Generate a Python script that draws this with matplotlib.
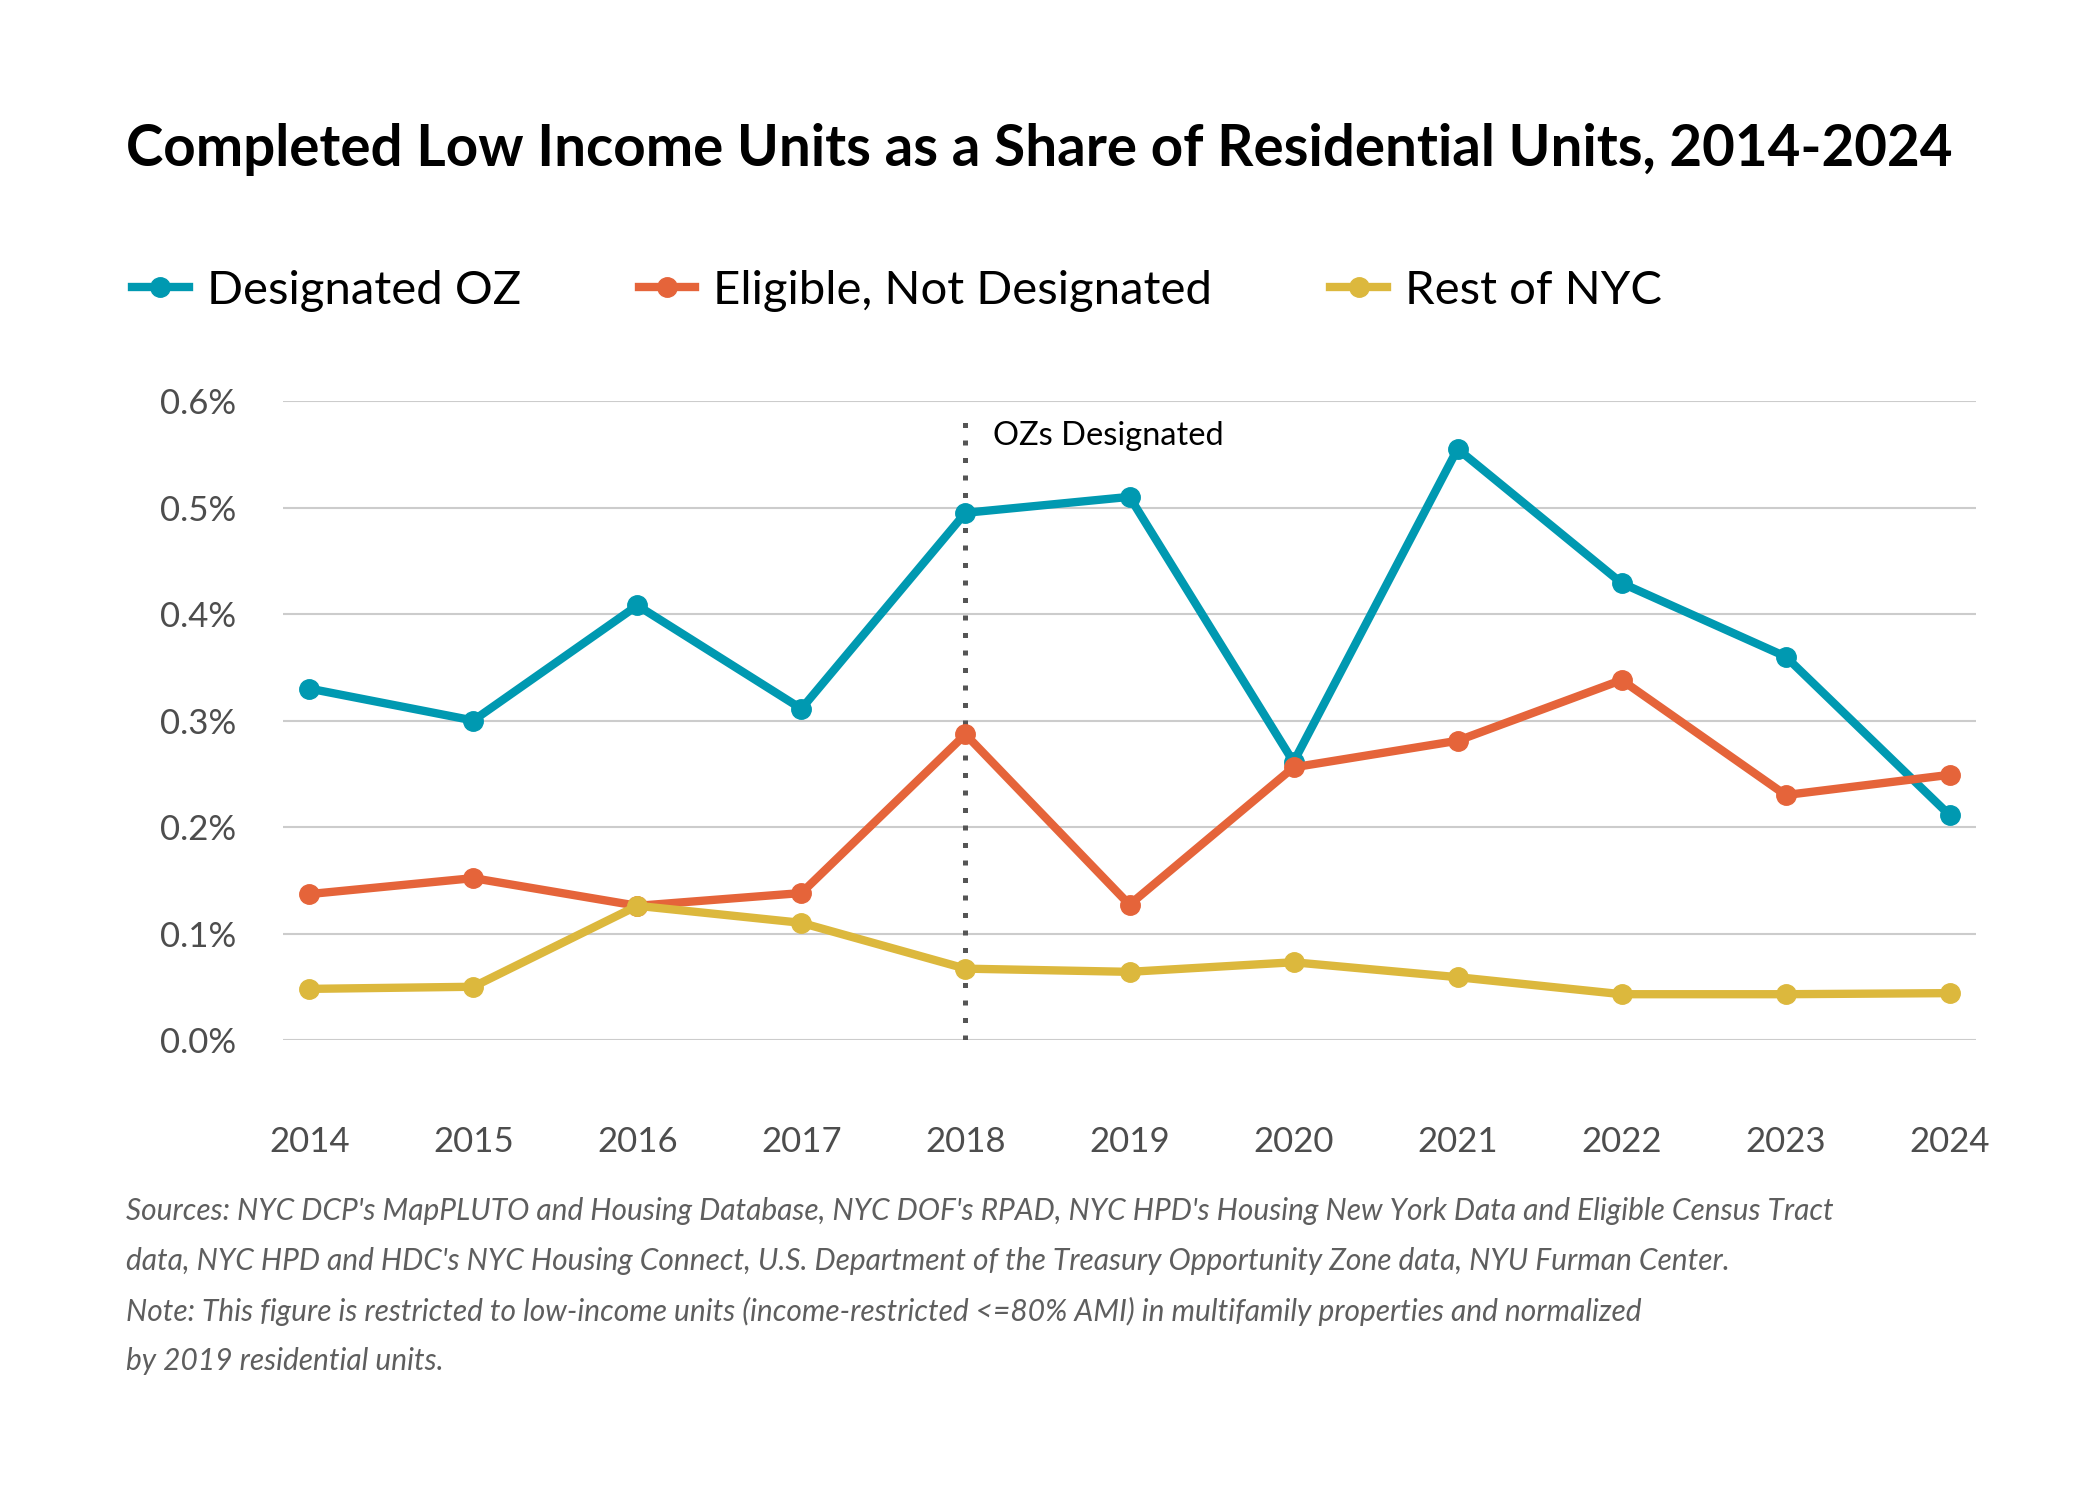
import matplotlib
matplotlib.use('Agg')
import matplotlib.pyplot as plt

plt.rcParams['font.family'] = ['Lato', 'DejaVu Sans']

years = [2014, 2015, 2016, 2017, 2018, 2019, 2020, 2021, 2022, 2023, 2024]
designated_oz = [0.330, 0.300, 0.408, 0.311, 0.495, 0.510, 0.261, 0.555, 0.429, 0.360, 0.211]
eligible_not_designated = [0.137, 0.152, 0.126, 0.138, 0.287, 0.127, 0.256, 0.281, 0.338, 0.230, 0.249]
rest_of_nyc = [0.048, 0.050, 0.126, 0.110, 0.067, 0.064, 0.073, 0.059, 0.043, 0.043, 0.044]
y_ticks = [0.0, 0.1, 0.2, 0.3, 0.4, 0.5, 0.6]
y_labels = ['0.0%', '0.1%', '0.2%', '0.3%', '0.4%', '0.5%', '0.6%']
series_names = ['Designated OZ', 'Eligible, Not Designated', 'Rest of NYC']
colors = ['#0099b1', '#e5643a', '#dcb83d']

W, H = 2100, 1500
fig = plt.figure(figsize=(21, 15), dpi=100)
# axes box in pixels: left 283, right 1976, top 401, bottom 1040
ax = fig.add_axes([283 / W, 1 - 1040 / H, (1976 - 283) / W, (1040 - 401) / H])

lines = []
for vals, name, c in zip([designated_oz, eligible_not_designated, rest_of_nyc], series_names, colors):
    ln, = ax.plot(years, vals, color=c, lw=6, marker='o', ms=14, label=name,
                  clip_on=False, zorder=3, solid_joinstyle='round')
    lines.append(ln)

# OZ designation marker
ax.plot([2018, 2018], [0, 0.59], color='#555555', lw=3.6, ls=(0, (1, 2.5)),
        dash_capstyle='butt', zorder=2)
ax.text(2018.17, 0.559, 'OZs Designated', fontsize=23.5, color='black', va='baseline', ha='left')

ax.set_xlim(2013.84, 2024.16)
ax.set_ylim(0, 0.6)
ax.set_yticks(y_ticks)
ax.set_yticklabels(y_labels)
ax.set_xticks(years)
ax.set_xticklabels([str(y) for y in years])
ax.grid(axis='y', color='#cccccc', lw=1.5)
ax.set_axisbelow(True)
for s in ax.spines.values():
    s.set_visible(False)
ax.tick_params(axis='both', length=0, labelsize=25, labelcolor='#4d4d4d')
ax.tick_params(axis='y', pad=34)
ax.tick_params(axis='x', pad=62)

fig.text(126 / W, 1 - 166 / H, 'Completed Low Income Units as a Share of Residential Units, 2014-2024',
         fontsize=40.7, fontweight='bold', va='baseline', ha='left', color='black')

fig.legend(handles=lines, loc='center left', bbox_to_anchor=(132 / W, 1 - 291 / H), ncol=3,
           frameon=False, fontsize=34, handlelength=1.2, handletextpad=0.38, columnspacing=2.5,
           borderaxespad=0, borderpad=0)

notes = [
    "Sources: NYC DCP's MapPLUTO and Housing Database, NYC DOF's RPAD, NYC HPD's Housing New York Data and Eligible Census Tract",
    "data, NYC HPD and HDC's NYC Housing Connect, U.S. Department of the Treasury Opportunity Zone data, NYU Furman Center.",
    "Note: This figure is restricted to low-income units (income-restricted <=80% AMI) in multifamily properties and normalized",
    "by 2019 residential units.",
]
for i, t in enumerate(notes):
    fig.text(126 / W, 1 - (1211 + 50 * i) / H, t, fontsize=21.5, style='italic',
             color='#5e5e5e', va='center', ha='left')

fig.savefig('out.png', dpi=100, facecolor='white')
